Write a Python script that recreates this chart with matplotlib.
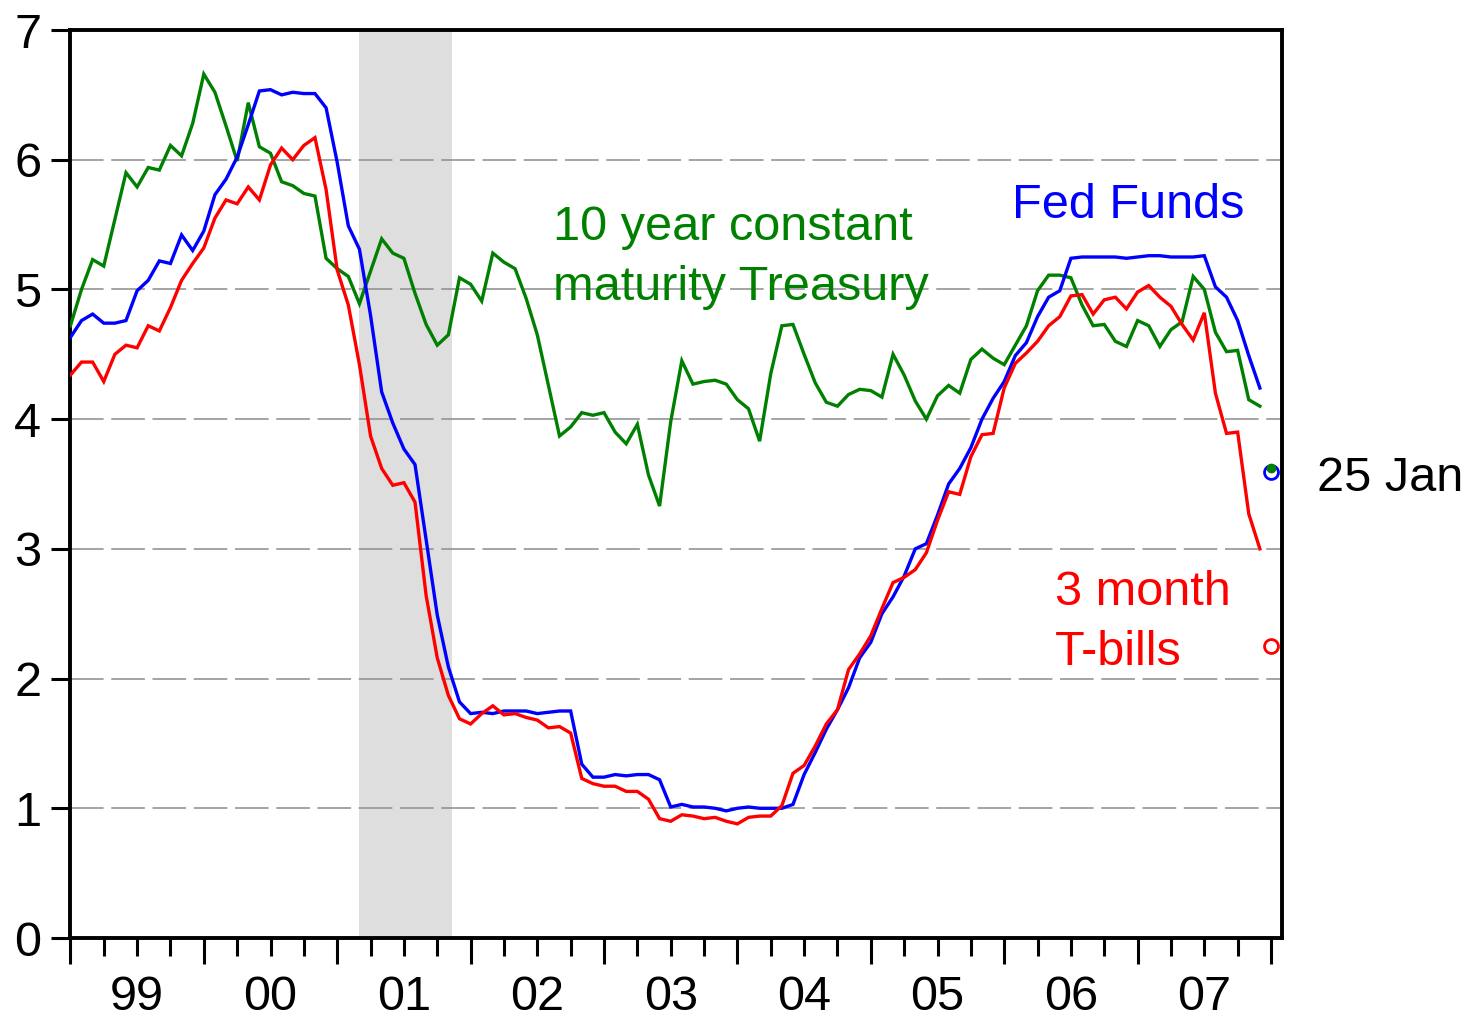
import matplotlib
matplotlib.use('Agg')
import matplotlib.pyplot as plt
import numpy as np
from matplotlib.ticker import FixedLocator, FixedFormatter, NullFormatter

# ---------------- data (monthly, Jan 1999 - Dec 2007) ----------------
fed_funds = [
    4.63, 4.76, 4.81, 4.74, 4.74, 4.76, 4.99, 5.07, 5.22, 5.20, 5.42, 5.30,
    5.45, 5.73, 5.85, 6.02, 6.27, 6.53, 6.54, 6.50, 6.52, 6.51, 6.51, 6.40,
    5.98, 5.49, 5.31, 4.80, 4.21, 3.97, 3.77, 3.65, 3.07, 2.49, 2.09, 1.82,
    1.73, 1.74, 1.73, 1.75, 1.75, 1.75, 1.73, 1.74, 1.75, 1.75, 1.34, 1.24,
    1.24, 1.26, 1.25, 1.26, 1.26, 1.22, 1.01, 1.03, 1.01, 1.01, 1.00, 0.98,
    1.00, 1.01, 1.00, 1.00, 1.00, 1.03, 1.26, 1.43, 1.61, 1.76, 1.93, 2.16,
    2.28, 2.50, 2.63, 2.79, 3.00, 3.04, 3.26, 3.50, 3.62, 3.78, 4.00, 4.16,
    4.29, 4.49, 4.59, 4.79, 4.94, 4.99, 5.24, 5.25, 5.25, 5.25, 5.25, 5.24,
    5.25, 5.26, 5.26, 5.25, 5.25, 5.25, 5.26, 5.02, 4.94, 4.76, 4.49, 4.24,
]
tbill_3m = [
    4.34, 4.44, 4.44, 4.29, 4.50, 4.57, 4.55, 4.72, 4.68, 4.86, 5.07, 5.20,
    5.32, 5.55, 5.69, 5.66, 5.79, 5.69, 5.96, 6.09, 6.00, 6.11, 6.17, 5.77,
    5.15, 4.88, 4.42, 3.87, 3.62, 3.49, 3.51, 3.36, 2.64, 2.16, 1.87, 1.69,
    1.65, 1.73, 1.79, 1.72, 1.73, 1.70, 1.68, 1.62, 1.63, 1.58, 1.23, 1.19,
    1.17, 1.17, 1.13, 1.13, 1.07, 0.92, 0.90, 0.95, 0.94, 0.92, 0.93, 0.90,
    0.88, 0.93, 0.94, 0.94, 1.02, 1.27, 1.33, 1.48, 1.65, 1.76, 2.07, 2.19,
    2.33, 2.54, 2.74, 2.78, 2.84, 2.97, 3.22, 3.44, 3.42, 3.71, 3.88, 3.89,
    4.24, 4.43, 4.51, 4.60, 4.72, 4.79, 4.95, 4.96, 4.81, 4.92, 4.94, 4.85,
    4.98, 5.03, 4.94, 4.87, 4.73, 4.61, 4.82, 4.20, 3.89, 3.90, 3.27, 3.00,
]
treasury_10y = [
    4.72, 5.00, 5.23, 5.18, 5.54, 5.90, 5.79, 5.94, 5.92, 6.11, 6.03, 6.28,
    6.66, 6.52, 6.26, 5.99, 6.44, 6.10, 6.05, 5.83, 5.80, 5.74, 5.72, 5.24,
    5.16, 5.10, 4.89, 5.14, 5.39, 5.28, 5.24, 4.97, 4.73, 4.57, 4.65, 5.09,
    5.04, 4.91, 5.28, 5.21, 5.16, 4.93, 4.65, 4.26, 3.87, 3.94, 4.05, 4.03,
    4.05, 3.90, 3.81, 3.96, 3.57, 3.33, 3.98, 4.45, 4.27, 4.29, 4.30, 4.27,
    4.15, 4.08, 3.83, 4.35, 4.72, 4.73, 4.50, 4.28, 4.13, 4.10, 4.19, 4.23,
    4.22, 4.17, 4.50, 4.34, 4.14, 4.00, 4.18, 4.26, 4.20, 4.46, 4.54, 4.47,
    4.42, 4.57, 4.72, 4.99, 5.11, 5.11, 5.09, 4.88, 4.72, 4.73, 4.60, 4.56,
    4.76, 4.72, 4.56, 4.69, 4.75, 5.10, 5.00, 4.67, 4.52, 4.53, 4.15, 4.10,
]
start_year = 1999
year_labels = ['99', '00', '01', '02', '03', '04', '05', '06', '07']

# 25 Jan 2008 observations
jan25_fed_funds = 3.59
jan25_treasury_10y = 3.62
jan25_tbill_3m = 2.25

# NBER recession: March 2001 - November 2001
recession_start = (2001, 3)
recession_end = (2001, 11)

# ---------------- plot ----------------
plt.rcParams['font.family'] = ['Liberation Sans', 'DejaVu Sans']

W, H = 1469, 1018
fig = plt.figure(figsize=(W / 100, H / 100), dpi=100)
L, R, T, B = 70.4, 1282, 30, 938
ax = fig.add_axes([L / W, 1 - B / H, (R - L) / W, (B - T) / H])

def mpos(year, month):
    return year + (month - 1) / 12.0

t = start_year + np.arange(len(fed_funds)) / 12.0

ax.axvspan(mpos(*recession_start), mpos(*recession_end) + 0.025, color='#dedede', lw=0, zorder=0)

for yv in range(1, 7):
    ax.axhline(yv, color='#8c8c8c', lw=1.1, ls=(0, (22, 5)), zorder=1)

lw = 2.4
ax.plot(t, treasury_10y, color='#008000', lw=lw, zorder=3, solid_joinstyle='miter')
ax.plot(t, fed_funds, color='#0000ff', lw=lw, zorder=4, solid_joinstyle='miter')
ax.plot(t, tbill_3m, color='#ff0000', lw=lw, zorder=5, solid_joinstyle='miter')

jx = mpos(2008, 1)
ax.plot([jx], [jan25_fed_funds], 'o', ms=10, mfc='none', mec='#0000ff', mew=2, clip_on=False, zorder=6)
ax.plot([jx], [jan25_treasury_10y], 'o', ms=6, mfc='#008000', mec='#008000', clip_on=False, zorder=7)
ax.plot([jx], [jan25_tbill_3m], 'o', ms=10, mfc='none', mec='#ff0000', mew=2, clip_on=False, zorder=6)

ax.set_xlim(1999.0, 1999 + (R - L) / 133.4)
ax.set_ylim(0, 7)

# axes styling
for s in ax.spines.values():
    s.set_linewidth(2.8)
    s.set_color('black')

ax.set_yticks(range(0, 8))
ax.set_yticklabels([str(v) for v in range(0, 8)])
ax.tick_params(axis='y', which='major', direction='out', length=14, width=2.2,
               labelsize=35, pad=7, right=False)

major_x = [start_year + k for k in range(len(year_labels) + 1)]
minor_x = [start_year + k + q for k in range(len(year_labels)) for q in (0.25, 0.5, 0.75)]
minor_lab = []
for k in range(len(year_labels)):
    minor_lab += ['', year_labels[k], '']
ax.xaxis.set_major_locator(FixedLocator(major_x))
ax.xaxis.set_major_formatter(NullFormatter())
ax.xaxis.set_minor_locator(FixedLocator(minor_x))
ax.xaxis.set_minor_formatter(FixedFormatter(minor_lab))
ax.tick_params(axis='x', which='major', direction='out', length=19, width=2.2, top=False)
ax.tick_params(axis='x', which='minor', direction='out', length=13, width=2.2,
               labelsize=35, pad=14, top=False)

fs = 35
ax.text(2002.618, 5.382, '10 year constant', color='#008000', fontsize=fs, va='baseline', ha='left')
ax.text(2002.618, 4.919, 'maturity Treasury', color='#008000', fontsize=fs, va='baseline', ha='left')
ax.text(2006.057, 5.549, 'Fed Funds', color='#0000ff', fontsize=fs, va='baseline', ha='left')
ax.text(2006.38, 2.567, '3 month', color='#ff0000', fontsize=fs, va='baseline', ha='left')
ax.text(2006.38, 2.105, 'T-bills', color='#ff0000', fontsize=fs, va='baseline', ha='left')
ax.text(2008.345, 3.449, '25 Jan', color='black', fontsize=fs, va='baseline', ha='left', clip_on=False)

fig.savefig('out.png', dpi=100)
